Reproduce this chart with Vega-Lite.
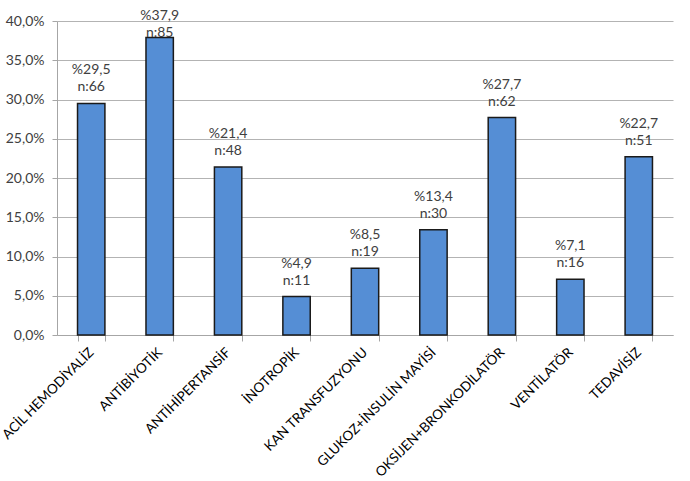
{
  "$schema": "https://vega.github.io/schema/vega-lite/v6.json",
  "width": 616,
  "height": 314,
  "autosize": {"type": "none"},
  "padding": {"left": 57, "top": 21, "right": 17, "bottom": 146},
  "background": "white",
  "config": {
    "font": "Lato",
    "view": {"stroke": null},
    "axis": {"labelFont": "Lato", "labelFontSize": 14, "labelColor": "#404040", "domainColor": "#a6a6a6", "tickColor": "#a6a6a6", "gridColor": "#b3b3b3", "title": null}
  },
  "data": {
    "values": [
      {"cat": "ACİL HEMODİYALİZ", "value": 0.295, "pct": "%29,5", "n": "n:66"},
      {"cat": "ANTİBİYOTİK", "value": 0.379, "pct": "%37,9", "n": "n:85"},
      {"cat": "ANTİHİPERTANSİF", "value": 0.214, "pct": "%21,4", "n": "n:48"},
      {"cat": "İNOTROPİK", "value": 0.049, "pct": "%4,9", "n": "n:11"},
      {"cat": "KAN TRANSFUZYONU", "value": 0.085, "pct": "%8,5", "n": "n:19"},
      {"cat": "GLUKOZ+İNSULİN MAYİSİ", "value": 0.134, "pct": "%13,4", "n": "n:30"},
      {"cat": "OKSİJEN+BRONKODİLATÖR", "value": 0.277, "pct": "%27,7", "n": "n:62"},
      {"cat": "VENTİLATÖR", "value": 0.071, "pct": "%7,1", "n": "n:16"},
      {"cat": "TEDAVİSİZ", "value": 0.227, "pct": "%22,7", "n": "n:51"}
    ]
  },
  "encoding": {
    "x": {
      "field": "cat", "type": "nominal", "sort": null,
      "scale": {"paddingInner": 0.6, "paddingOuter": 0.3},
      "axis": {"labelAngle": -45, "labelAlign": "right", "labelBaseline": "middle", "labelColor": "#000000", "tickBand": "extent", "tickSize": 6, "labelPadding": 9, "labelFontSize": 13.5}
    },
    "y": {
      "field": "value", "type": "quantitative",
      "scale": {"domain": [0, 0.4]},
      "axis": {"values": [0, 0.05, 0.1, 0.15, 0.2, 0.25, 0.3, 0.35, 0.4], "labelExpr": "replace(format(datum.value, '.1%'), '.', ',')", "tickSize": 5, "labelPadding": 8, "grid": true}
    }
  },
  "layer": [
    {"mark": {"type": "bar", "fill": "#558ed5", "stroke": "#1a1a1a", "strokeWidth": 1.5}},
    {
      "transform": [{"calculate": "min(datum.value, 0.364)", "as": "labelPos"}],
      "mark": {"type": "text", "dy": -9, "fontSize": 14, "color": "#404040", "baseline": "bottom"},
      "encoding": {"y": {"field": "labelPos", "type": "quantitative"}, "text": {"field": "n"}}
    },
    {
      "transform": [{"calculate": "min(datum.value, 0.364)", "as": "labelPos"}],
      "mark": {"type": "text", "dy": -26, "fontSize": 14, "color": "#404040", "baseline": "bottom"},
      "encoding": {"y": {"field": "labelPos", "type": "quantitative"}, "text": {"field": "pct"}}
    }
  ]
}
